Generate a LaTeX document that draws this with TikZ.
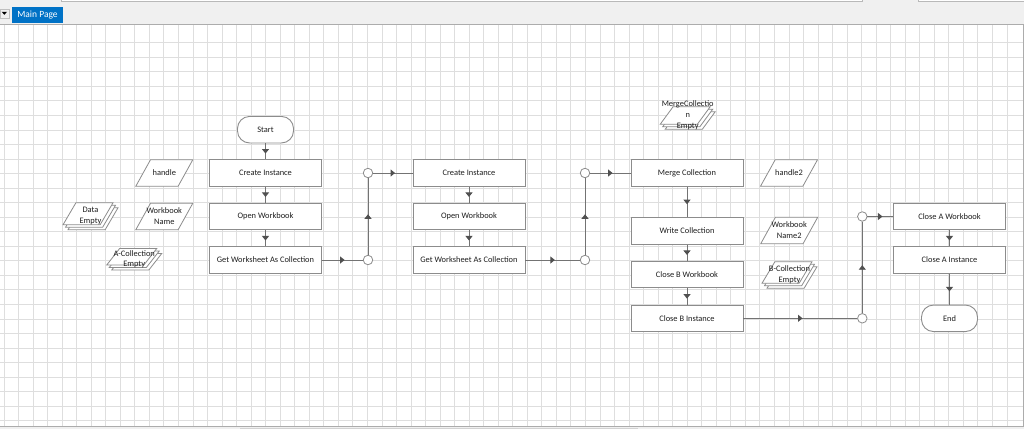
\documentclass[tikz,border=0pt]{standalone}
\usepackage{fontspec}
\setmainfont{Carlito}
\usetikzlibrary{shapes.geometric,shadows,decorations.markings,arrows.meta}

\definecolor{tabblue}{RGB}{0,114,198}
\definecolor{barback}{RGB}{240,240,240}
\definecolor{gridgray}{RGB}{222,222,222}
\definecolor{boxgray}{RGB}{140,140,140}
\definecolor{linegray}{RGB}{115,115,115}
\definecolor{tipgray}{RGB}{80,80,80}
\definecolor{textgray}{RGB}{30,30,30}

\begin{document}
\begin{tikzpicture}
	[x=1pt, y=-1pt,
	 every node/.style={font=\fontsize{8.4}{10.8}\selectfont, text=textgray},
	 act/.style={rectangle, draw=boxgray, fill=white, line width=0.9pt, minimum width=112pt, minimum height=26.5pt, inner sep=0pt},
	 term/.style={act, rounded corners=12pt, minimum width=56pt},
	 data/.style={trapezium, trapezium left angle=62, trapezium right angle=118, trapezium stretches=true, draw=boxgray, fill=white, line width=0.8pt, inner sep=1pt, minimum width=57pt, minimum height=26.5pt},
	 stack/.style={data, minimum width=50pt, double copy shadow={shadow xshift=2.5pt, shadow yshift=-2.5pt, draw=boxgray, fill=white, line width=0.8pt}},
	 tag/.style={align=center, inner sep=0pt},
	 junc/.style={circle, draw=boxgray, fill=white, line width=0.8pt, minimum size=9.5pt, inner sep=0pt},
	 flow/.style={draw=linegray, line width=0.9pt, postaction={decorate}, decoration={markings, mark=at position 0.5 with {\arrow[tipgray, xshift=2.2pt]{Triangle[length=4.5pt, width=7pt]}}}}]
	\useasboundingbox (0,0) rectangle (1024,429);
	\fill[barback] (0,0) rectangle (1024,429);
	\draw[gray!55, fill=white] (61.5,-3) rectangle (862,1.5);
	\draw[gray!55, fill=white] (918,-3) rectangle (1030,1.5);
	\node[draw=gray!50, fill=barback, minimum width=9pt, minimum height=9pt, inner sep=0pt] (menu) at (4.5,13.3) {};
	\fill[black] (1.7,11.8) -- (7,11.8) -- (4.35,14.8) -- cycle;
	\node[fill=tabblue, text=white, font=\fontsize{9.5}{11}\selectfont, minimum width=51pt, minimum height=16pt, inner sep=0pt] (tab) at (37.5,15.3) {Main Page};
	\fill[white] (0,24) rectangle (1023,426.7);
	\foreach \i in {0,...,69}
		\draw[gridgray, line width=0.8pt] ({4+14.535*\i},24) -- ({4+14.535*\i},426.5);
	\foreach \j in {1,...,27}
		\draw[gridgray, line width=0.8pt] (0,{28.2+14.535*\j}) -- (1022.5,{28.2+14.535*\j});
	\draw[gray!65, line width=0.8pt] (0,24) -- (1023,24) -- (1023,426.7) -- (0,426.7);
	\fill[gray!35] (240,427.6) rectangle (638,429);

	\node[term] (start) at (265.5,129.7) {Start};
	\node[act] (ci1) at (265.5,173) {Create Instance};
	\node[act] (ow1) at (265.5,216.5) {Open Workbook};
	\node[act] (gw1) at (265.5,260) {Get Worksheet As Collection};
	\node[act] (ci2) at (469,173) {Create Instance};
	\node[act] (ow2) at (469,216.5) {Open Workbook};
	\node[act] (gw2) at (469,260) {Get Worksheet As Collection};
	\node[act] (mc) at (687,173) {Merge Collection};
	\node[act] (wc) at (687,231) {Write Collection};
	\node[act] (cbw) at (687,274.5) {Close B Workbook};
	\node[act] (cbi) at (687,318.3) {Close B Instance};
	\node[act] (caw) at (949.5,216.5) {Close A Workbook};
	\node[act] (cai) at (949.5,260) {Close A Instance};
	\node[term] (finish) at (949.5,318.3) {End};

	\node[junc] (j1) at (368,260) {};
	\node[junc] (j2) at (368,173) {};
	\node[junc] (j3) at (585,260) {};
	\node[junc] (j4) at (585,173) {};
	\node[junc] (j5) at (862.3,318.3) {};
	\node[junc] (j6) at (862.3,216.5) {};

	\node[data, label={[tag]center:handle}] (hdl) at (164.3,173) {};
	\node[data, label={[tag]center:{Workbook\\Name}}] (wbn) at (164.3,216.5) {};
	\node[stack, minimum height=22pt, label={[tag, xshift=2.5pt, yshift=-2.5pt]center:{Data\\Empty}}] (dte) at (88,213.8) {};
	\node[stack, minimum height=16.5pt, label={[tag, xshift=2.5pt, yshift=-2.5pt]center:{A-Collection\\Empty}}] (ace) at (131.7,256.8) {};
	\node[stack, minimum height=17.5pt, label={[tag, xshift=2.5pt]center:{MergeCollectio\\n\\Empty}}] (mce) at (685.2,115.5) {};
	\node[data, label={[tag]center:handle2}] (hdl2) at (789,173) {};
	\node[data, label={[tag]center:{Workbook\\Name2}}] (wbn2) at (789.2,230.5) {};
	\node[stack, minimum height=21.5pt, label={[tag, xshift=2.5pt, yshift=-2.5pt]center:{B-Collection\\Empty}}] (bce) at (787,272.5) {};

	\draw[flow] (start) -- (ci1);
	\draw[flow] (ci1) -- (ow1);
	\draw[flow] (ow1) -- (gw1);
	\draw[flow] (gw1) -- (j1);
	\draw[flow] (j1) -- (j2);
	\draw[flow] (j2) -- (ci2);
	\draw[flow] (ci2) -- (ow2);
	\draw[flow] (ow2) -- (gw2);
	\draw[flow] (gw2) -- (j3);
	\draw[flow] (j3) -- (j4);
	\draw[flow] (j4) -- (mc);
	\draw[flow] (mc) -- (wc);
	\draw[flow] (wc) -- (cbw);
	\draw[flow] (cbw) -- (cbi);
	\draw[flow] (cbi) -- (j5);
	\draw[flow] (j5) -- (j6);
	\draw[flow] (j6) -- (caw);
	\draw[flow] (caw) -- (cai);
	\draw[flow] (cai) -- (finish);
\end{tikzpicture}
\end{document}
